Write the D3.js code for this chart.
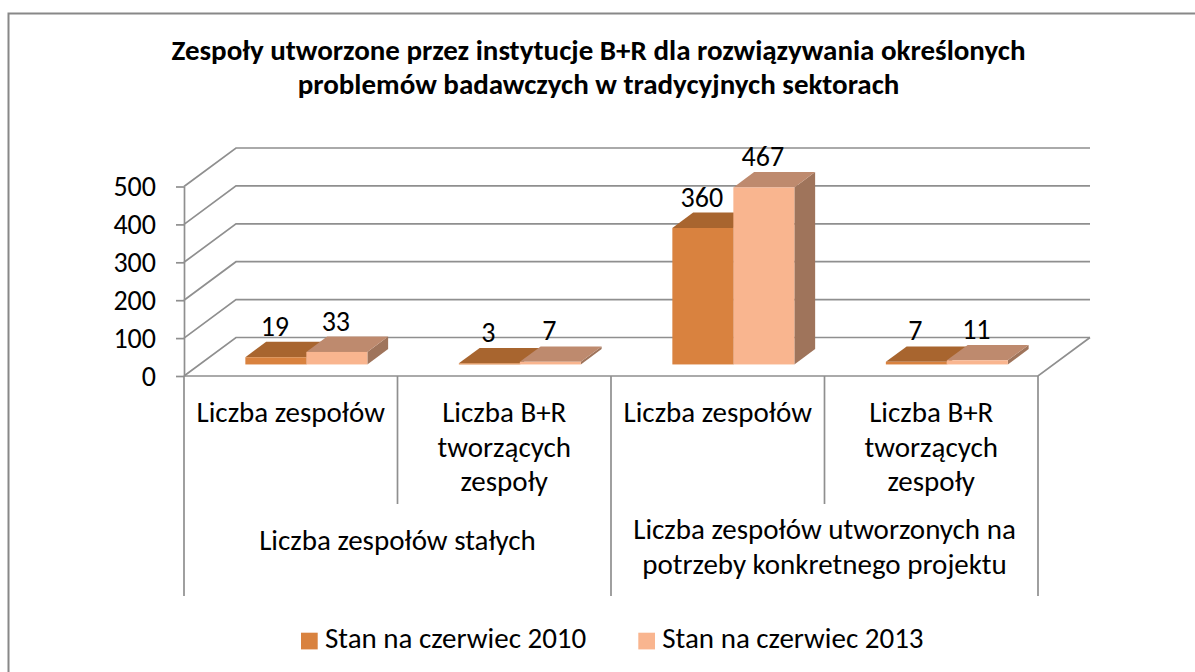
<!DOCTYPE html>
<html><head><meta charset="utf-8">
<script src="https://cdn.jsdelivr.net/npm/d3@7"></script>
<style>
body{margin:0;background:#fff}
svg{display:block}
text{font-family:Calibri,Carlito,Lato,sans-serif;fill:#000}
</style>
</head><body><svg id="c" width="1195" height="672"></svg>
<script>
const titleLines = ["Zespoły utworzone przez instytucje B+R dla rozwiązywania określonych","problemów badawczych w tradycyjnych sektorach"];
const categories = [["Liczba zespołów"],["Liczba B+R","tworzących","zespoły"],["Liczba zespołów"],["Liczba B+R","tworzących","zespoły"]];
const groups = [["Liczba zespołów stałych"],["Liczba zespołów utworzonych na","potrzeby konkretnego projektu"]];
const seriesNames = ["Stan na czerwiec 2010","Stan na czerwiec 2013"];
const values2010 = [19,3,360,7];
const values2013 = [33,7,467,11];
const yTicks = [0,100,200,300,400,500];

const series = [values2010, values2013];
const colors = [
  {front:"#D9823F", top:"#A8652F", side:"#8C5226", legend:"#D9823F"},
  {front:"#F9B58F", top:"#BE8A6E", side:"#9F745B", legend:"#F9B58F"}
];

const svg = d3.select("#c");
const gridColor = "#8f8f8f";
const FS = 29;
const D = {x:52, y:-38.5};          // depth vector of the 3D box
const fOff = 0.3, bDep = 0.4;       // bar front offset and depth (fractions of D)

const x = d3.scaleBand().domain(d3.range(categories.length)).range([184,1038]).padding(0);
const xs = d3.scaleBand().domain(d3.range(series.length)).range([0, x.bandwidth()]).paddingInner(0).paddingOuter(0.75);
const y = d3.scaleLinear().domain([0,500]).range([376,186.5]);

// border
svg.append("path").attr("d","M8.5,672 V13.5 H1195").attr("fill","none").attr("stroke","#888").attr("stroke-width",2);

// title
svg.append("g").selectAll("text").data(titleLines).join("text")
  .attr("x",598.5).attr("y",(d,i)=>60+i*34).attr("text-anchor","middle")
  .attr("font-weight","bold").attr("font-size",29).text(d=>d);

// gridlines: side wall diagonals + back wall
const grid = svg.append("g").attr("fill","none").attr("stroke",gridColor).attr("stroke-width",1.7);
grid.selectAll("path.g").data(yTicks).join("path").attr("class","g")
  .attr("d",v=>`M${x.range()[0]},${y(v)} L${x.range()[0]+D.x},${y(v)+D.y} H${x.range()[1]+D.x}`);
// floor front edge & right edge
grid.append("path").attr("d",`M${x.range()[0]},${y(0)} H${x.range()[1]} L${x.range()[1]+D.x},${y(0)+D.y}`);

// y axis
const yAxis = d3.axisLeft(y).tickValues(yTicks).tickSize(8).tickSizeOuter(0).tickPadding(20);
const ga = svg.append("g").attr("transform",`translate(${x.range()[0]},0)`).call(yAxis);
ga.select(".domain").attr("stroke",gridColor).attr("stroke-width",1.7);
ga.selectAll(".tick line").attr("stroke",gridColor).attr("stroke-width",1.7);
ga.selectAll(".tick text").attr("font-size",FS-1).attr("font-family","Calibri,Carlito,Lato,sans-serif").attr("dy","0.33em").attr("fill","#000");

// bars
const bars = svg.append("g");
categories.forEach((c,i)=>{
  series.forEach((vals,s)=>{
    const v = vals[i];
    const w = xs.bandwidth();
    const xf = x(i)+xs(s)+fOff*D.x;
    const yb = y(0)+fOff*D.y;
    const yt = y(v)+fOff*D.y;
    const bx = bDep*D.x, by = bDep*D.y;
    const col = colors[s];
    bars.append("polygon").attr("fill",col.side)
      .attr("points",[[xf+w,yt],[xf+w+bx,yt+by],[xf+w+bx,yb+by],[xf+w,yb]].join(" "));
    bars.append("polygon").attr("fill",col.top)
      .attr("points",[[xf,yt],[xf+w,yt],[xf+w+bx,yt+by],[xf+bx,yt+by]].join(" "));
    bars.append("rect").attr("fill",col.front).attr("x",xf).attr("y",yt).attr("width",w).attr("height",yb-yt);
    bars.append("text").attr("x",xf+w/2-1).attr("y",yt+by-6).attr("text-anchor","middle")
      .attr("font-size",FS-1).text(v);
  });
});

// category axis dividers
const div = svg.append("g").attr("stroke",gridColor).attr("stroke-width",1.7);
d3.range(categories.length+1).forEach(i=>{
  const xx = i<categories.length ? x(i) : x.range()[1];
  div.append("line").attr("x1",xx).attr("x2",xx).attr("y1",y(0)).attr("y2", i%2===1 ? 504 : 596);
});

// category labels
categories.forEach((lines,i)=>{
  svg.append("g").selectAll("text").data(lines).join("text")
    .attr("x",x(i)+x.bandwidth()/2).attr("y",(d,j)=>422+j*34.5)
    .attr("text-anchor","middle").attr("font-size",FS).text(d=>d);
});
// group labels
groups.forEach((lines,g)=>{
  const cx = x(g*2)+x.bandwidth();
  const y0 = lines.length===1 ? 550 : 538.5;
  svg.append("g").selectAll("text").data(lines).join("text")
    .attr("x",cx).attr("y",(d,j)=>y0+j*35)
    .attr("text-anchor","middle").attr("font-size",FS).text(d=>d);
});

// legend
const legX = [301, 638.3];
seriesNames.forEach((n,s)=>{
  svg.append("rect").attr("x",legX[s]).attr("y",632.7).attr("width",16.7).attr("height",16.7).attr("fill",colors[s].legend);
  svg.append("text").attr("x",legX[s]+24).attr("y",648).attr("font-size",FS).text(n);
});
</script>
</body></html>
